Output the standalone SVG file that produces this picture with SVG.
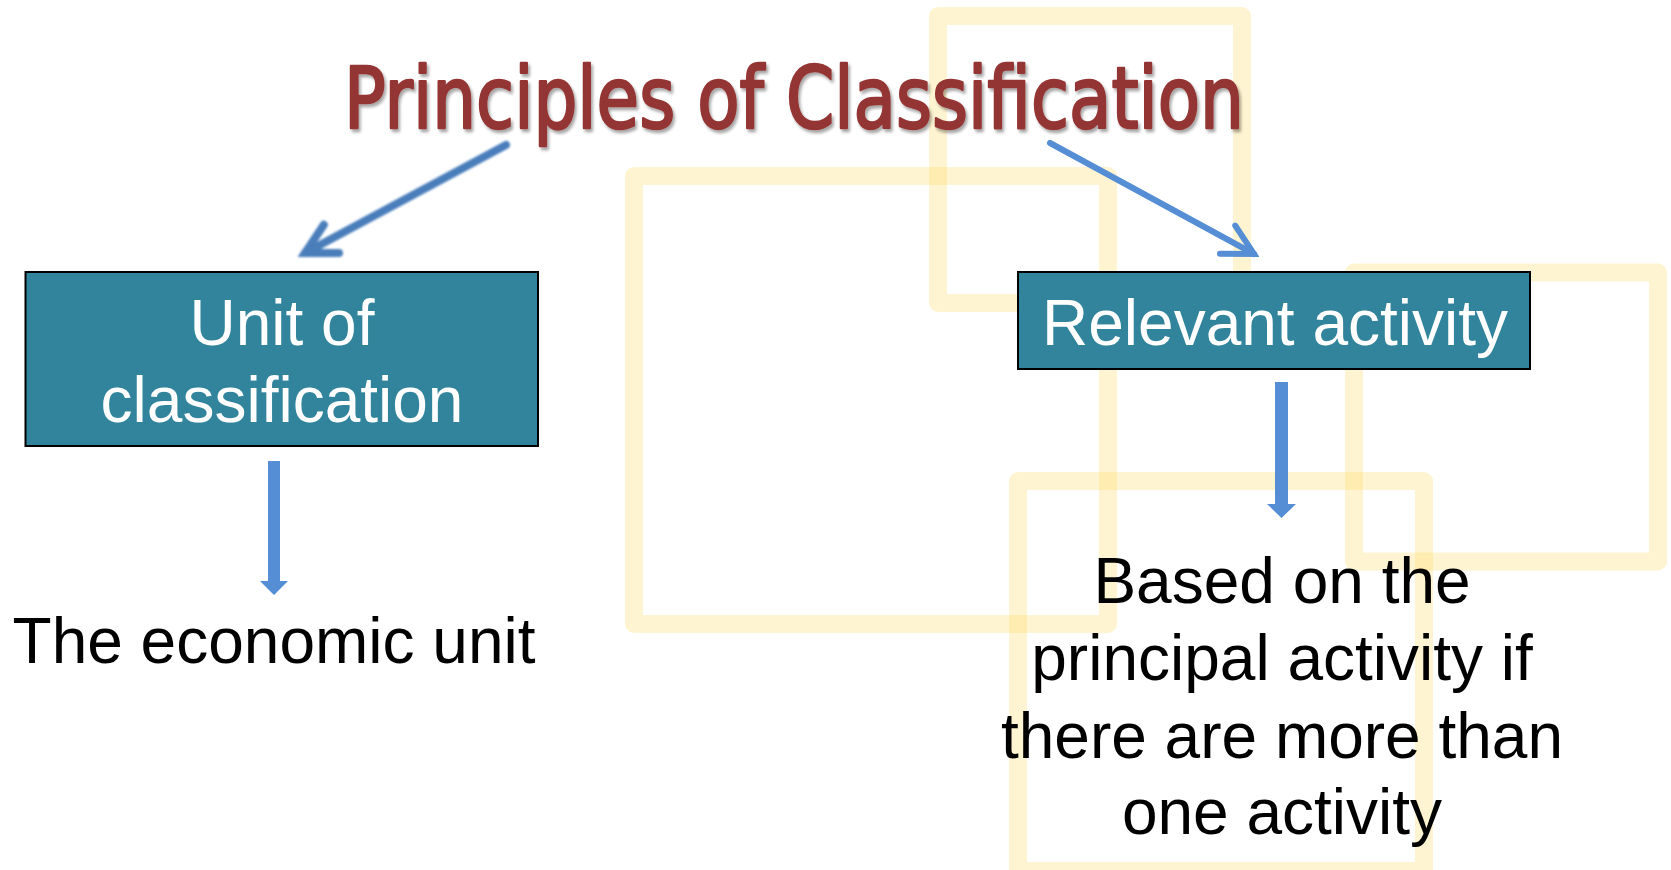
<svg xmlns="http://www.w3.org/2000/svg" width="1671" height="870" viewBox="0 0 1671 870">
  <style>
    .deco { fill: none; stroke: #FFD966; stroke-opacity: 0.3; stroke-width: 18; stroke-linejoin: round; }
    .box { fill: #31849B; stroke: #000; stroke-width: 2; }
    .boxtxt { font-family: "Liberation Sans", Arial, sans-serif; font-size: 64px; fill: #FFFFFF; text-anchor: middle; }
    .plain { font-family: "Liberation Sans", Arial, sans-serif; font-size: 64px; fill: #000000; text-anchor: middle; }
    .title { font-family: "DejaVu Sans", "Liberation Sans", sans-serif; font-size: 85px; fill: #943634; stroke: #943634; stroke-width: 2.5; stroke-linejoin: round; }
    .diag { fill: none; stroke-linecap: round; }
    .block { fill: #558ED5; stroke: none; }
  </style>
  <defs>
    <filter id="shadow" x="-5%" y="-20%" width="110%" height="150%">
      <feDropShadow dx="2" dy="3" stdDeviation="1.5" flood-color="#000" flood-opacity="0.35"/>
    </filter>
    <filter id="soft" x="-10%" y="-10%" width="120%" height="120%">
      <feGaussianBlur stdDeviation="0.8"/>
    </filter>
    <marker id="headL" viewBox="0 0 44 44" refX="36" refY="22" markerWidth="44" markerHeight="44" markerUnits="userSpaceOnUse" orient="auto">
      <path d="M6,6 L36,22 L6,38" fill="none" stroke="#4A7EBB" stroke-width="8" stroke-linecap="round" stroke-linejoin="miter"/>
    </marker>
    <marker id="headR" viewBox="0 0 40 40" refX="34" refY="20" markerWidth="40" markerHeight="40" markerUnits="userSpaceOnUse" orient="auto">
      <path d="M4,4 L34,20 L4,36" fill="none" stroke="#558ED5" stroke-width="6" stroke-linecap="round" stroke-linejoin="miter"/>
    </marker>
  </defs>

  <g id="decorations">
    <rect class="deco" x="634" y="176" width="474" height="448"/>
    <rect class="deco" x="938" y="16" width="304" height="287"/>
    <rect class="deco" x="1354" y="272.5" width="304" height="289"/>
    <rect class="deco" x="1018" y="481" width="406" height="390"/>
  </g>

  <g id="title">
    <text class="title" x="344" y="128" textLength="900" lengthAdjust="spacingAndGlyphs" filter="url(#shadow)">Principles of Classification</text>
  </g>

  <g id="connectors">
    <line class="diag" x1="506" y1="145" x2="305" y2="253" stroke="#4A7EBB" stroke-width="8" marker-end="url(#headL)" filter="url(#soft)"/>
    <line class="diag" x1="1050" y1="143" x2="1254" y2="254" stroke="#558ED5" stroke-width="6" marker-end="url(#headR)"/>
    <path class="block" d="M268,461 L280,461 L280,581 L288,581 L274,595 L260,581 L268,581 Z"/>
    <path class="block" d="M1275,382 L1288,382 L1288,504 L1296,504 L1281.5,518 L1267,504 L1275,504 Z"/>
  </g>

  <g id="node-unit">
    <rect class="box" x="25.5" y="272" width="512.5" height="174"/>
    <text class="boxtxt" x="282" y="345">Unit of</text>
    <text class="boxtxt" x="282" y="422">classification</text>
  </g>

  <g id="node-relevant">
    <rect class="box" x="1018" y="272" width="512" height="97"/>
    <text class="boxtxt" x="1275" y="345">Relevant activity</text>
  </g>

  <g id="node-economic">
    <text class="plain" x="274" y="663">The economic unit</text>
  </g>

  <g id="node-based">
    <text class="plain" x="1282" y="603">Based on the</text>
    <text class="plain" x="1282" y="680">principal activity if</text>
    <text class="plain" x="1282" y="758">there are more than</text>
    <text class="plain" x="1282" y="834">one activity</text>
  </g>
</svg>
